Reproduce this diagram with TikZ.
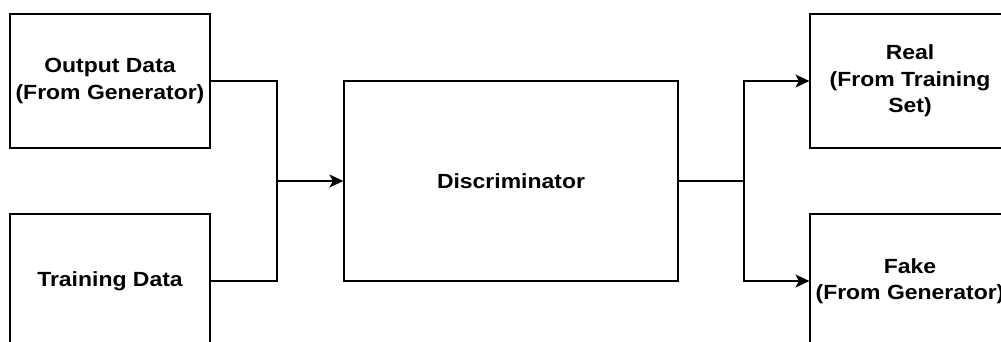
\documentclass[tikz,border=0pt]{standalone}
\usepackage{fontspec}
\setmainfont{Liberation Sans}
\newfontfamily\boxfont[FakeStretch=1.12]{Liberation Sans}
\usetikzlibrary{arrows.meta}

\begin{document}
\begin{tikzpicture}[x=1pt, y=-1pt, line width=1.2pt,
  box/.style={draw, minimum width=200pt, minimum height=134pt, align=center,
    font=\boxfont\fontsize{20.5}{26.5}\selectfont\bfseries, inner sep=0pt},
  flow/.style={-{Stealth[length=14pt, width=13pt, inset=3.5pt]}}]
  \clip (0,0) rectangle (1001,341);
  \node[box] (out) at (110,81) {Output Data\\(From Generator)};
  \node[box] (train) at (110,281) {Training Data};
  \node[box, minimum width=334pt, minimum height=200pt] (disc) at (511,181) {Discriminator};
  \node[box] (real) at (910,81) {Real\\(From Training\\Set)};
  \node[box] (fake) at (910,281) {Fake\\(From Generator)};
  \coordinate (joinL) at (277,181);
  \coordinate (joinR) at (744,181);
  \draw (out.east) -| (joinL) |- (train.east);
  \draw[flow] (joinL) -- (disc.west);
  \draw (disc.east) -- (joinR);
  \draw[flow] (joinR) |- (real.west);
  \draw[flow] (joinR) |- (fake.west);
\end{tikzpicture}
\end{document}
